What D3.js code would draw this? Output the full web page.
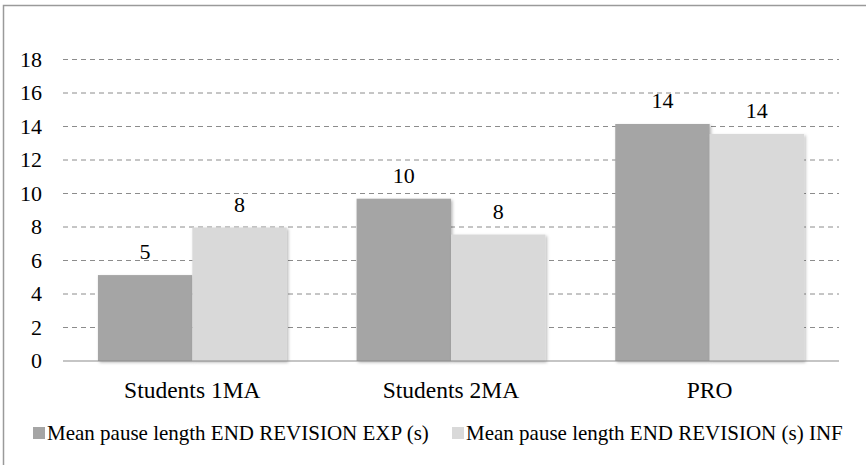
<!DOCTYPE html>
<html>
<head>
<meta charset="utf-8">
<script src="https://cdn.jsdelivr.net/npm/d3@7"></script>
</head>
<body style="margin:0">
<svg id="chart" width="866" height="465"></svg>
<script>
// Mean pause length at end of revision, by participant group
const categories = ["Students 1MA", "Students 2MA", "PRO"];
const seriesNames = [
  "Mean pause length END REVISION EXP (s)",
  "Mean pause length END REVISION (s) INF"
];
const expValues = [5.13, 9.69, 14.15];
const infValues = [7.97, 7.55, 13.55];
const yTicks = [0, 2, 4, 6, 8, 10, 12, 14, 16, 18];
const seriesColors = ["#a5a5a5", "#d9d9d9"];

const FONT = '"Liberation Serif", "Times New Roman", serif';

const svg = d3.select("#chart");
const W = 866, H = 465;
const plot = { left: 63, right: 839, top: 59.5, bottom: 361 };

// frame (top and left edges)
svg.append("path")
  .attr("d", `M3.5,${H} V5.5 H${W}`)
  .attr("fill", "none").attr("stroke", "#9a9a9a").attr("stroke-width", 1.5);

const x = d3.scaleBand().domain(categories)
  .range([plot.left, plot.right]).paddingInner(0.27).paddingOuter(0.135);
const xs = d3.scaleBand().domain([0, 1]).range([0, x.bandwidth()]);
const y = d3.scaleLinear().domain([0, 18]).range([plot.bottom, plot.top]);

// dashed gridlines
svg.append("g").selectAll("line")
  .data(yTicks.filter(d => d > 0))
  .join("line")
  .attr("x1", plot.left).attr("x2", plot.right)
  .attr("y1", d => y(d)).attr("y2", d => y(d))
  .attr("stroke", "#8c8c8c").attr("stroke-width", 1)
  .attr("stroke-dasharray", "5,4");

// y axis tick labels (plain text at the scale's positions)
svg.append("g").selectAll("text")
  .data(yTicks).join("text")
  .attr("x", plot.left - 21)
  .attr("y", d => y(d))
  .attr("dy", "0.34em")
  .attr("text-anchor", "end")
  .attr("font-size", 22)
  .style("font-family", FONT)
  .text(d => d3.format("d")(d));

// shadow for bars
const defs = svg.append("defs");
const f = defs.append("filter").attr("id", "shadow")
  .attr("x", "-10%").attr("y", "-10%").attr("width", "125%").attr("height", "125%");
f.append("feDropShadow").attr("dx", 1.5).attr("dy", 1.5).attr("stdDeviation", 1.6)
  .attr("flood-color", "#000").attr("flood-opacity", 0.28);

const rows = categories.map((c, i) => ({ cat: c, vals: [expValues[i], infValues[i]] }));

const groups = svg.append("g").selectAll("g")
  .data(rows).join("g")
  .attr("transform", d => `translate(${x(d.cat)},0)`);

groups.selectAll("rect")
  .data(d => d.vals.map((v, s) => ({ v, s })))
  .join("rect")
  .attr("x", d => xs(d.s))
  .attr("width", xs.bandwidth())
  .attr("y", d => y(d.v))
  .attr("height", d => y(0) - y(d.v))
  .attr("fill", d => seriesColors[d.s])
  .attr("filter", "url(#shadow)");

// value labels
groups.selectAll("text")
  .data(d => d.vals.map((v, s) => ({ v, s })))
  .join("text")
  .attr("x", d => xs(d.s) + xs.bandwidth() / 2)
  .attr("y", d => y(d.v) - 16)
  .attr("text-anchor", "middle")
  .attr("font-size", 22)
  .style("font-family", FONT)
  .text(d => d3.format(".0f")(d.v));

// baseline
svg.append("line")
  .attr("x1", plot.left).attr("x2", plot.right)
  .attr("y1", y(0)).attr("y2", y(0))
  .attr("stroke", "#8c8c8c").attr("stroke-width", 1.2);

// category labels
svg.append("g").selectAll("text")
  .data(categories).join("text")
  .attr("x", d => x(d) + x.bandwidth() / 2)
  .attr("y", y(0) + 37)
  .attr("text-anchor", "middle")
  .attr("font-size", 23.5)
  .style("font-family", FONT)
  .text(d => d);

// legend
const legendItems = [
  { name: seriesNames[0], color: seriesColors[0], x: 33 },
  { name: seriesNames[1], color: seriesColors[1], x: 452 }
];
const lg = svg.append("g").selectAll("g").data(legendItems).join("g")
  .attr("transform", d => `translate(${d.x},0)`);
lg.append("rect").attr("x", 0).attr("y", 427).attr("width", 12).attr("height", 12)
  .attr("fill", d => d.color);
lg.append("text").attr("x", 14).attr("y", 440)
  .attr("font-size", 21)
  .style("font-family", FONT)
  .text(d => d.name);
</script>
</body>
</html>
